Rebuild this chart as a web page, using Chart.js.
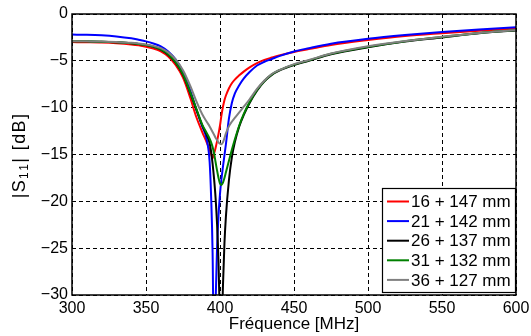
<!DOCTYPE html>
<html>
<head>
<meta charset="utf-8">
<script src="https://cdn.jsdelivr.net/npm/chart.js@4.4.0/dist/chart.umd.min.js"></script>
<style>
    html, body { margin: 0; padding: 0; background: #fff; }
    #wrap { width: 531px; height: 336px; }
</style>
</head>
<body>
<div id="wrap"><canvas id="s11Chart"></canvas></div>
<script>
// Frequency sweep (MHz), denser around the resonance
const freqMHz = [300, 310, 320, 330, 340, 345, 350, 355, 360, 365, 370, 375, 380, 384, 388, 391, 393, 394, 395, 396, 397, 398, 399, 400,
    401, 402, 403, 404, 406, 408, 410, 413, 416, 420, 425, 430, 435, 440, 450, 460, 475, 500, 525, 550, 575, 600];

const xTicks = [300, 350, 400, 450, 500, 550, 600];
const yTicks = [0, -5, -10, -15, -20, -25, -30];

const seriesLabels = ['16 + 147 mm', '21 + 142 mm', '26 + 137 mm', '31 + 132 mm', '36 + 127 mm'];
const seriesColors = ['#ff0000', '#0000ff', '#000000', '#008000', '#808080'];

// |S11| in dB
const s11Red = [-3.0, -3.02, -3.05, -3.12, -3.25, -3.35, -3.5, -3.7, -4.0, -4.55, -5.45, -6.8, -9.0, -11.0, -12.6, -13.7, -14.5, -14.95, -15.4, -14.9, -14.3, -13.6, -12.8, -11.9,
    -10.8, -9.9, -9.2, -8.7, -7.95, -7.4, -7.0, -6.55, -6.15, -5.7, -5.25, -4.9, -4.65, -4.42, -4.05, -3.75, -3.3, -2.78, -2.35, -2.05, -1.78, -1.55];
const s11Blue = [-2.2, -2.22, -2.28, -2.4, -2.6, -2.75, -2.92, -3.15, -3.45, -4.0, -4.85, -6.2, -8.2, -10.2, -12.0, -13.4, -15.8, -19.5, -25.5, -38.0, -31.0, -25.0, -21.5, -19.2,
    -17.6, -16.3, -15.1, -13.9, -11.2, -9.5, -8.5, -7.6, -6.9, -6.2, -5.5, -5.1, -4.8, -4.5, -4.0, -3.65, -3.18, -2.65, -2.25, -1.92, -1.65, -1.42];
const s11Black = [-2.9, -2.92, -2.95, -3.02, -3.12, -3.2, -3.3, -3.5, -3.8, -4.35, -5.2, -6.5, -8.5, -10.2, -11.9, -12.9, -13.8, -14.7, -16.0, -17.6, -19.6, -22.4, -26.5, -33.0,
    -35.0, -29.0, -24.5, -21.6, -17.8, -15.3, -13.7, -12.0, -10.8, -9.5, -8.2, -7.2, -6.5, -6.05, -5.45, -5.0, -4.3, -3.55, -2.95, -2.5, -2.05, -1.75];
const s11Green = [-2.9, -2.92, -2.95, -3.02, -3.12, -3.2, -3.3, -3.48, -3.78, -4.3, -5.15, -6.45, -8.4, -10.1, -11.8, -12.7, -13.3, -13.7, -14.2, -14.9, -15.8, -16.7, -17.5, -18.1,
    -18.25, -18.0, -17.5, -16.9, -15.7, -14.5, -13.4, -11.9, -10.7, -9.4, -8.1, -7.15, -6.45, -6.0, -5.4, -4.95, -4.25, -3.5, -2.9, -2.45, -2.02, -1.72];
const s11Gray = [-2.9, -2.92, -2.94, -3.0, -3.08, -3.15, -3.25, -3.4, -3.65, -4.1, -4.85, -6.0, -7.7, -9.3, -10.7, -11.5, -12.0, -12.3, -12.6, -12.9, -13.2, -13.45, -13.7, -13.85,
    -13.9, -13.7, -13.25, -12.75, -12.0, -11.5, -11.1, -10.5, -9.9, -9.1, -8.0, -7.1, -6.4, -6.0, -5.35, -4.92, -4.22, -3.45, -2.88, -2.44, -2.02, -1.7];

const seriesValues = [s11Red, s11Blue, s11Black, s11Green, s11Gray];

const FONT = "'Liberation Sans', Arial, Helvetica, sans-serif";

// draw a run of text with extra spacing between glyphs, returns the end x
function spacedText(ctx, text, x, y, gap) {
    for (const ch of text) {
        ctx.fillText(ch, x, y);
        x += ctx.measureText(ch).width + gap;
    }
    return x;
}

function spacedWidth(ctx, text, gap) {
    let w = 0;
    for (const ch of text) w += ctx.measureText(ch).width + gap;
    return w;
}

/**
 * Axes box, MATLAB-style legend and axis titles
 */
const matlabFrame = {
    id: 'matlabFrame',
    afterDatasetsDraw(chart) {
        const { ctx, chartArea: a } = chart;
        ctx.save();
        ctx.strokeStyle = '#000';
        ctx.lineWidth = 1.5;
        ctx.strokeRect(a.left, a.top, a.right - a.left, a.bottom - a.top);

        // legend box, bottom right inside the plot
        const boxW = 133, boxH = 104;
        const bx = Math.round(a.right) - 1 - boxW, by = Math.round(a.bottom) - 3 - boxH;
        ctx.fillStyle = '#fff';
        ctx.fillRect(bx, by, boxW, boxH);
        ctx.lineWidth = 1.2;
        ctx.strokeRect(bx + 0.5, by + 0.5, boxW, boxH);

        ctx.font = '17px ' + FONT;
        ctx.textBaseline = 'middle';
        ctx.textAlign = 'left';
        chart.data.datasets.forEach((ds, i) => {
            const y = by + 13.5 + i * 19.6;
            ctx.strokeStyle = ds.borderColor;
            ctx.lineWidth = 2;
            ctx.beginPath();
            ctx.moveTo(bx + 5, y);
            ctx.lineTo(bx + 27, y);
            ctx.stroke();
            ctx.fillStyle = '#000';
            ctx.fillText(ds.label, bx + 29, y + 1);
        });
        ctx.restore();
    },
    afterDraw(chart) {
        const { ctx, chartArea: a } = chart;
        ctx.save();
        ctx.fillStyle = '#000';
        ctx.textBaseline = 'middle';

        // x title
        ctx.font = '17px ' + FONT;
        ctx.textAlign = 'center';
        ctx.fillText('Fréquence [MHz]', (a.left + a.right) / 2, 324);

        // y title with subscript, rotated
        ctx.translate(20, (a.top + a.bottom) / 2 + 1);
        ctx.rotate(-Math.PI / 2);
        ctx.textAlign = 'left';
        const gap = 1.4;
        const main = '18px ' + FONT, sub = '12px ' + FONT;
        const parts = [['|S', main, 0], ['11', sub, 5], ['| [dB]', main, 0]];
        let total = 0;
        parts.forEach(p => { ctx.font = p[1]; total += spacedWidth(ctx, p[0], gap); });
        let x = -total / 2;
        parts.forEach(p => {
            ctx.font = p[1];
            x = spacedText(ctx, p[0], x, p[2], gap);
        });
        ctx.restore();
    }
};

const datasets = seriesLabels.map((label, i) => ({
    label: label,
    data: freqMHz.map((f, j) => ({ x: f, y: seriesValues[i][j] })),
    borderColor: seriesColors[i],
    backgroundColor: seriesColors[i],
    borderWidth: 2,
    pointRadius: 0,
    cubicInterpolationMode: 'monotone',
    fill: false,
    order: seriesLabels.length - i // gray drawn last, on top
}));

new Chart(document.getElementById('s11Chart'), {
    type: 'line',
    data: { datasets: datasets },
    plugins: [matlabFrame],
    options: {
        responsive: true,
        maintainAspectRatio: false,
        animation: false,
        layout: { padding: { top: 14, right: 15, left: 0, bottom: 0 } },
        plugins: {
            legend: { display: false },
            tooltip: { enabled: false }
        },
        scales: {
            x: {
                type: 'linear',
                min: 300,
                max: 600,
                afterBuildTicks: s => { s.ticks = xTicks.map(v => ({ value: v })); },
                afterFit: s => { s.height = 41; s.paddingLeft = 0; s.paddingRight = 0; },
                grid: { color: '#000', lineWidth: 1, drawTicks: false },
                border: { display: false, dash: [4, 3] },
                ticks: {
                    color: '#000',
                    padding: 4,
                    maxRotation: 0,
                    font: { family: FONT, size: 16 }
                }
            },
            y: {
                type: 'linear',
                min: -30,
                max: 0,
                afterBuildTicks: s => { s.ticks = yTicks.map(v => ({ value: v })); },
                afterFit: s => { s.width = 72; s.paddingTop = 0; s.paddingBottom = 0; },
                grid: { color: '#000', lineWidth: 1, drawTicks: false },
                border: { display: false, dash: [4, 3] },
                ticks: {
                    color: '#000',
                    padding: 4,
                    font: { family: FONT, size: 16 },
                    callback: v => String(v).replace('-', '\u2212')
                }
            }
        }
    }
});
</script>
</body>
</html>
